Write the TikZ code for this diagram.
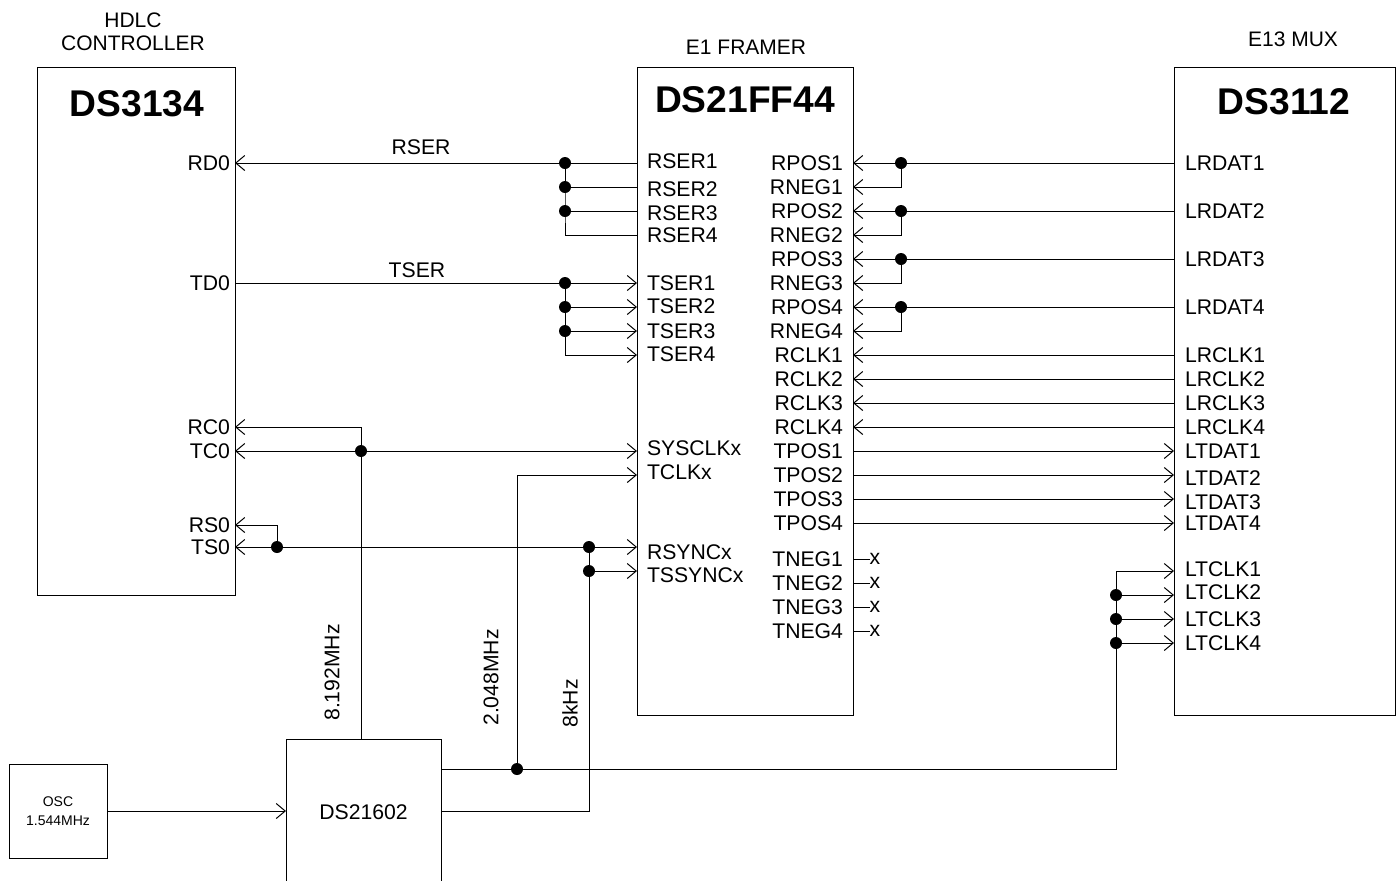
\documentclass[tikz,border=0pt]{standalone}
\usepackage{fontspec}
\setmainfont{Liberation Sans}
\usetikzlibrary{arrows.meta}
\begin{document}
\begin{tikzpicture}[x=0.5pt,y=-0.5pt,inner sep=0pt,outer sep=0pt,line width=0.5pt,
chipblock/.style={draw,rectangle,line width=0.5pt},
chipname/.style={font=\fontsize{18.6}{20}\selectfont\bfseries},
pinlabel/.style={font=\fontsize{10.6}{12}\selectfont,yshift=-0.2pt},
titlelabel/.style={font=\fontsize{10.5}{11.5}\selectfont,align=center},
jdot/.style={circle,fill=black,minimum size=6pt},
sig/.style={-{Straight Barb[length=4.5pt,width=7.5pt,line width=0.5pt]}}]

\useasboundingbox (0,0) rectangle (1396,880);

% blocks
\node[chipblock,minimum width=99pt,minimum height=264pt] (ds3134) at (136,331) {};
\node[chipblock,minimum width=108pt,minimum height=324pt] (ds21ff44) at (745,391) {};
\node[chipblock,minimum width=110.5pt,minimum height=324pt] (ds3112) at (1284.5,391) {};
\node[chipblock,minimum width=49pt,minimum height=47pt,font=\fontsize{7}{9.5}\selectfont,align=center] (osc) at (58,811) {OSC\\1.544MHz};
\node[chipblock,pinlabel,minimum width=77.5pt,minimum height=73pt] (ds21602) at (363.5,812) {DS21602};

\node[chipname] (name3134) at (137,104) {DS3134};
\node[chipname] (name21ff44) at (745,100) {DS21FF44};
\node[chipname] (name3112) at (1284,102) {DS3112};
\node[titlelabel] (hdlc) at (133,32) {HDLC\\CONTROLLER};
\node[titlelabel] (framer) at (746,47) {E1 FRAMER};
\node[titlelabel] (mux) at (1293,39) {E13 MUX};

% pins of DS3134
\foreach \n/\py in {RD0/163,TD0/283,RC0/427,TC0/451,RS0/525,TS0/547} {
  \coordinate (\n-p) at (235,\py);
  \node[pinlabel,anchor=east] (\n) at (230,\py) {\n};
}
% pins of DS21FF44, left side
\foreach \n/\py/\ly in {RSER1/163/161,RSER2/187/189,RSER3/211/213,RSER4/235/235,
  TSER1/283/283,TSER2/307/306,TSER3/331/331,TSER4/355/354,
  SYSCLKx/451/448,TCLKx/475/472,RSYNCx/547/552,TSSYNCx/571/575} {
  \coordinate (\n-p) at (637,\py);
  \node[pinlabel,anchor=west] (\n) at (647,\ly) {\n};
}
% pins of DS21FF44, right side
\foreach \n/\py in {RPOS1/163,RNEG1/187,RPOS2/211,RNEG2/235,RPOS3/259,RNEG3/283,RPOS4/307,RNEG4/331,
  RCLK1/355,RCLK2/379,RCLK3/403,RCLK4/427,TPOS1/451,TPOS2/475,TPOS3/499,TPOS4/523,
  TNEG1/559,TNEG2/583,TNEG3/607,TNEG4/631} {
  \coordinate (\n-p) at (853,\py);
  \node[pinlabel,anchor=east] (\n) at (843,\py) {\n};
}
% pins of DS3112
\foreach \n/\py/\ly in {LRDAT1/163/163,LRDAT2/211/211,LRDAT3/259/259,LRDAT4/307/307,
  LRCLK1/355/355,LRCLK2/379/379,LRCLK3/403/403,LRCLK4/427/427,
  LTDAT1/451/451,LTDAT2/475/478,LTDAT3/499/502,LTDAT4/523/523,
  LTCLK1/571/569,LTCLK2/595/592,LTCLK3/619/619,LTCLK4/643/643} {
  \coordinate (\n-p) at (1174,\py);
  \node[pinlabel,anchor=west] (\n) at (1185,\ly) {\n};
}

% junctions
\foreach \n/\x/\y in {jr1/565/163,jr2/565/187,jr3/565/211,jt1/565/283,jt2/565/307,jt3/565/331,
  jp1/901/163,jp2/901/211,jp3/901/259,jp4/901/307,jc/361/451,js/277/547,
  jm1/589/547,jm2/589/571,jt/517/769,jl2/1116/595,jl3/1116/619,jl4/1116/643} {
  \node[jdot] (\n) at (\x,\y) {};
}

% RSER
\draw[sig] (jr1) -- (RD0-p);
\node[pinlabel] (rserlabel) at (421,147) {RSER};
\draw (jr1) -- (RSER1-p);
\draw (jr2) -- (RSER2-p);
\draw (jr3) -- (RSER3-p);
\draw (jr1.center) -- (jr3.center) |- (RSER4-p);

% TSER
\draw (TD0-p) -- (jt1);
\node[pinlabel] (tserlabel) at (417,270) {TSER};
\draw[sig] (jt1) -- (TSER1-p);
\draw[sig] (jt2) -- (TSER2-p);
\draw[sig] (jt3) -- (TSER3-p);
\draw (jt1.center) -- (jt3.center);
\draw[sig] (jt3.center) |- (TSER4-p);

% RPOS / RNEG
\foreach \i in {1,2,3,4} {
  \draw[sig] (jp\i) -- (RPOS\i-p);
  \draw[sig] (jp\i.center) |- (RNEG\i-p);
}
\draw (LRDAT1-p) -- (jp1);
\draw (LRDAT2-p) -- (jp2);
\draw (LRDAT3-p) -- (jp3);
\draw (LRDAT4-p) -- (jp4);

% clocks and data to and from the mux
\foreach \i in {1,2,3,4} {
  \draw[sig] (LRCLK\i-p) -- (RCLK\i-p);
  \draw[sig] (TPOS\i-p) -- (LTDAT\i-p);
}

% unused TNEG
\foreach \i in {1,2,3,4} {
  \node[pinlabel,anchor=center] (x\i) at (875,558+24*\i-24) {x};
  \draw (TNEG\i-p) -- (x\i.west |- TNEG\i-p);
}

% 8.192MHz
\draw (ds21602.north -| jc) -- (jc);
\node[pinlabel,rotate=90] (lab8192) at (332,672) {8.192MHz};
\draw[sig] (jc.center) |- (RC0-p);
\draw[sig] (jc) -- (TC0-p);
\draw[sig] (jc) -- (SYSCLKx-p);

% frame sync
\draw[sig] (js) -- (TS0-p);
\draw[sig] (js.center) |- (RS0-p);
\draw (js) -- (jm1);
\draw[sig] (jm1) -- (RSYNCx-p);
\draw[sig] (jm2) -- (TSSYNCx-p);

% 2.048MHz
\draw (ds21602.east |- jt) -- (jt);
\draw[sig] (jt.center) |- (TCLKx-p);
\draw (jt) -| (jl4.center);
\draw (jl4.center) -- (jl2.center);
\draw[sig] (jl2.center) |- (LTCLK1-p);
\draw[sig] (jl2) -- (LTCLK2-p);
\draw[sig] (jl3) -- (LTCLK3-p);
\draw[sig] (jl4) -- (LTCLK4-p);
\node[pinlabel,rotate=90] (lab2048) at (491,677) {2.048MHz};

% 8kHz
\coordinate (out8k) at (ds21602.east |- 0,811);
\draw (out8k) -| (jm2.center);
\draw (jm2.center) -- (jm1.center);
\node[pinlabel,rotate=90] (lab8k) at (570,703) {8kHz};

% oscillator
\draw[sig] (osc) -- (ds21602.west |- osc);
\end{tikzpicture}
\end{document}
